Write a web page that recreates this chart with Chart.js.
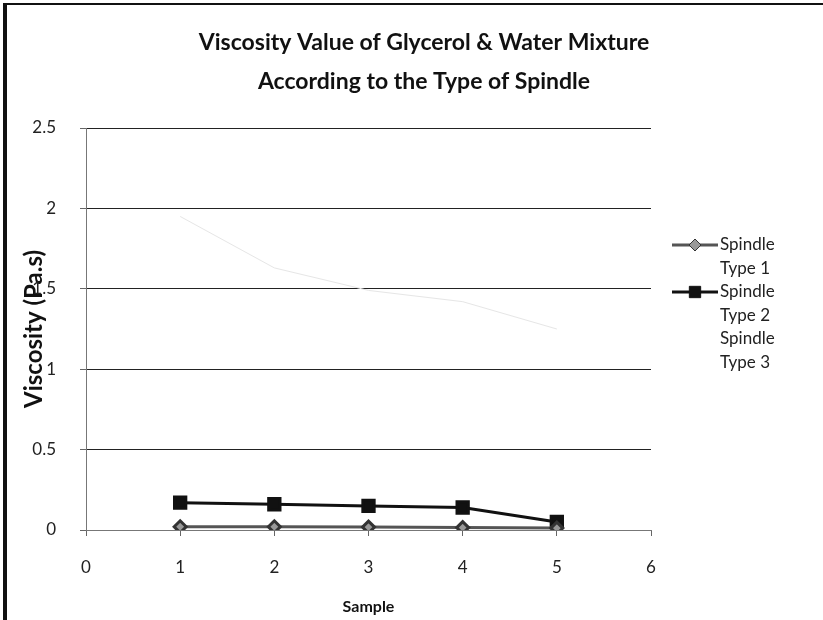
<!DOCTYPE html>
<html lang="en">
<head>
  <meta charset="UTF-8" />
  <title>Viscosity by Spindle Type</title>
  <style>
    body {
      margin: 0;
      background: #fff;
    }

    #wrap {
      width: 823px;
      height: 620px;
      position: relative;
    }
  </style>
</head>
<body>
  <div id="wrap">
    <canvas id="viscChart" width="823" height="620"></canvas>
  </div>

  <script src="https://cdn.jsdelivr.net/npm/chart.js"></script>
  <script>
    // values
    const samples = [1, 2, 3, 4, 5];
    const spindle1 = [0.02, 0.02, 0.018, 0.015, 0.012];
    const spindle2 = [0.17, 0.16, 0.15, 0.14, 0.05];
    const spindle3 = [1.95, 1.63, 1.49, 1.42, 1.25];
    const seriesNames = [["Spindle", "Type 1"], ["Spindle", "Type 2"], ["Spindle", "Type 3"]];
    const titleLines = ['Viscosity Value of Glycerol & Water Mixture', 'According to the Type of Spindle'];
    const xTicks = [0, 1, 2, 3, 4, 5, 6];
    const yTicks = [0, 0.5, 1, 1.5, 2, 2.5];

    const font = "Lato, 'Open Sans', sans-serif";

    function pts(vals) {
      return samples.map((x, i) => ({ x: x, y: vals[i] }));
    }

    // white page, the scanned frame on the left and top, and the title
    // (Excel centres the title a bit right of the plot, so it is drawn by hand)
    const framePlugin = {
      id: 'frame',
      beforeDraw(chart) {
        const c = chart.ctx;
        c.save();
        c.fillStyle = '#fff';
        c.fillRect(0, 0, chart.width, chart.height);
        c.fillStyle = '#111';
        c.fillRect(3, 3, 4, chart.height - 3);
        c.fillRect(3, 3, chart.width - 3, 2);
        c.font = 'bold 23px ' + font;
        c.textAlign = 'center';
        c.textBaseline = 'middle';
        titleLines.forEach((t, i) => c.fillText(t, 424, 43 + i * 39));
        c.restore();
      }
    };

    // two-line legend entries like the Excel one
    const legendPlugin = {
      id: 'wrapLegend',
      afterDraw(chart) {
        const c = chart.ctx;
        const x0 = 672, x1 = 718, top = 245, lh = 23.5;
        c.save();
        c.font = '17px ' + font;
        c.textBaseline = 'middle';
        chart.data.datasets.forEach((ds, i) => {
          const y = top + i * 2 * lh;
          if (ds.legendMarker !== false) {
            c.strokeStyle = ds.borderColor;
            c.lineWidth = ds.borderWidth;
            c.beginPath();
            c.moveTo(x0, y);
            c.lineTo(x1, y);
            c.stroke();
            c.fillStyle = ds.pointBackgroundColor;
            c.strokeStyle = ds.pointBorderColor;
            c.lineWidth = 1;
            Chart.helpers.drawPoint(c, { pointStyle: ds.pointStyle, radius: ds.pointRadius, rotation: 0, borderWidth: 1 }, (x0 + x1) / 2, y);
          }
          c.fillStyle = '#222';
          seriesNames[i].forEach((line, j) => c.fillText(line, x1 + 2, y + j * lh));
        });
        c.restore();
      }
    };

    const ctx = document.getElementById("viscChart").getContext("2d");
    new Chart(ctx, {
      type: 'line',
      data: {
        datasets: [
          {
            label: 'Spindle Type 1',
            data: pts(spindle1),
            borderColor: '#555',
            borderWidth: 3,
            pointStyle: 'rectRot',
            pointRadius: 6,
            pointBackgroundColor: '#999',
            pointBorderColor: '#333'
          },
          {
            label: 'Spindle Type 2',
            data: pts(spindle2),
            borderColor: '#111',
            borderWidth: 3,
            pointStyle: 'rect',
            pointRadius: 8,
            pointBackgroundColor: '#111',
            pointBorderColor: '#111'
          },
          {
            label: 'Spindle Type 3',
            data: pts(spindle3),
            borderColor: '#e6e6e6',
            borderWidth: 1,
            pointRadius: 0,
            legendMarker: false
          }
        ]
      },
      options: {
        responsive: false,
        animation: false,
        layout: { padding: { left: 10, right: 172, top: 128, bottom: 0 } },
        plugins: {
          legend: { display: false },
          tooltip: { enabled: false },
          title: { display: false }
        },
        scales: {
          x: {
            type: 'linear',
            min: 0,
            max: 6,
            afterBuildTicks: s => { s.ticks = xTicks.map(v => ({ value: v })); },
            afterFit: s => { s.height = 90; },
            ticks: { color: '#222', font: { family: font, size: 17 }, padding: 21 },
            grid: { drawOnChartArea: false, drawTicks: true, tickLength: 6, color: '#666' },
            border: { color: '#777', width: 1 },
            title: {
              display: true,
              text: 'Sample',
              color: '#111',
              font: { family: font, size: 16, weight: 'bold' },
              padding: { top: 0, bottom: 4 }
            }
          },
          y: {
            min: 0,
            max: 2.5,
            afterBuildTicks: s => { s.ticks = yTicks.map(v => ({ value: v })); },
            afterFit: s => { s.width = 76; },
            ticks: { color: '#222', font: { family: font, size: 17 }, padding: 24, callback: v => String(v) },
            grid: {
              color: ctx => ctx.tick && ctx.tick.value === 0 ? '#888' : '#222',
              tickLength: 6,
              tickColor: '#666'
            },
            border: { color: '#777', width: 1 },
            title: {
              display: true,
              text: 'Viscosity (Pa.s)',
              color: '#111',
              font: { family: font, size: 24, weight: 'bold' },
              padding: { top: 10, bottom: 0 }
            }
          }
        }
      },
      plugins: [framePlugin, legendPlugin]
    });
  </script>
</body>
</html>
